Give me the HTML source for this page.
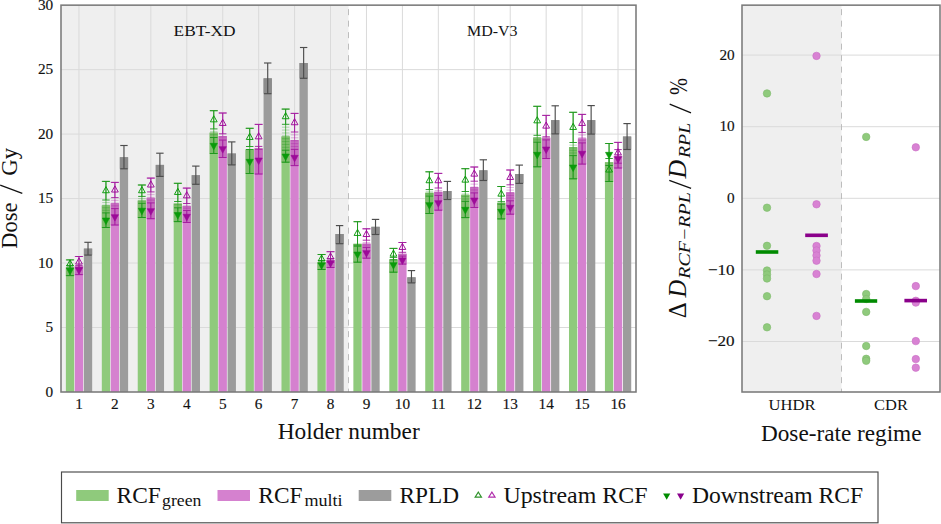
<!DOCTYPE html>
<html><head><meta charset="utf-8"><style>
html,body{margin:0;padding:0;background:#fff;}
body{width:941px;height:524px;overflow:hidden;position:relative;}
text{font-family:"Liberation Serif",serif;fill:#111;stroke:#111;stroke-width:0;}
.t{font-size:15.3px;stroke-width:0.15px;}
.m{font-size:15px;stroke-width:0;}
.L{font-size:23px;}
</style></head><body>
<svg width="941" height="524" viewBox="0 0 941 524" style="position:absolute;left:0;top:0">
<rect width="941" height="524" fill="#fff"/>
<rect x="61.0" y="5.15" width="287.50" height="386.85" fill="#efefef"/>
<line x1="61.0" x2="636.0" y1="327.52" y2="327.52" stroke="#dadada" stroke-width="1"/>
<line x1="61.0" x2="636.0" y1="263.05" y2="263.05" stroke="#dadada" stroke-width="1"/>
<line x1="61.0" x2="636.0" y1="198.57" y2="198.57" stroke="#dadada" stroke-width="1"/>
<line x1="61.0" x2="636.0" y1="134.10" y2="134.10" stroke="#dadada" stroke-width="1"/>
<line x1="61.0" x2="636.0" y1="69.62" y2="69.62" stroke="#dadada" stroke-width="1"/>
<line x1="78.97" x2="78.97" y1="5.15" y2="392.0" stroke="#dadada" stroke-width="1"/>
<line x1="114.91" x2="114.91" y1="5.15" y2="392.0" stroke="#dadada" stroke-width="1"/>
<line x1="150.84" x2="150.84" y1="5.15" y2="392.0" stroke="#dadada" stroke-width="1"/>
<line x1="186.78" x2="186.78" y1="5.15" y2="392.0" stroke="#dadada" stroke-width="1"/>
<line x1="222.72" x2="222.72" y1="5.15" y2="392.0" stroke="#dadada" stroke-width="1"/>
<line x1="258.66" x2="258.66" y1="5.15" y2="392.0" stroke="#dadada" stroke-width="1"/>
<line x1="294.59" x2="294.59" y1="5.15" y2="392.0" stroke="#dadada" stroke-width="1"/>
<line x1="330.53" x2="330.53" y1="5.15" y2="392.0" stroke="#dadada" stroke-width="1"/>
<line x1="366.47" x2="366.47" y1="5.15" y2="392.0" stroke="#dadada" stroke-width="1"/>
<line x1="402.41" x2="402.41" y1="5.15" y2="392.0" stroke="#dadada" stroke-width="1"/>
<line x1="438.34" x2="438.34" y1="5.15" y2="392.0" stroke="#dadada" stroke-width="1"/>
<line x1="474.28" x2="474.28" y1="5.15" y2="392.0" stroke="#dadada" stroke-width="1"/>
<line x1="510.22" x2="510.22" y1="5.15" y2="392.0" stroke="#dadada" stroke-width="1"/>
<line x1="546.16" x2="546.16" y1="5.15" y2="392.0" stroke="#dadada" stroke-width="1"/>
<line x1="582.09" x2="582.09" y1="5.15" y2="392.0" stroke="#dadada" stroke-width="1"/>
<line x1="618.03" x2="618.03" y1="5.15" y2="392.0" stroke="#dadada" stroke-width="1"/>
<line x1="348.50" x2="348.50" y1="5.15" y2="392.0" stroke="#bdbdbd" stroke-width="1" stroke-dasharray="6 5.5" stroke-dashoffset="-4"/>
<rect x="65.87" y="267.25" width="8.3" height="124.75" fill="#8fca7c"/>
<rect x="65.87" y="267.25" width="8.3" height="8.35" fill="#7fbc6c"/>
<line x1="70.02" x2="70.02" y1="259.90" y2="275.60" stroke="#4fae42" stroke-width="0.9"/><line x1="65.87" x2="74.17" y1="259.90" y2="259.90" stroke="#4fae42" stroke-width="0.9"/><line x1="65.87" x2="74.17" y1="275.60" y2="275.60" stroke="#4fae42" stroke-width="0.9"/>
<line x1="70.02" x2="70.02" y1="259.90" y2="268.10" stroke="#1a961a" stroke-width="0.9"/><line x1="66.28" x2="73.75" y1="259.90" y2="259.90" stroke="#1a961a" stroke-width="0.9"/><line x1="66.28" x2="73.75" y1="268.10" y2="268.10" stroke="#1a961a" stroke-width="0.9"/>
<line x1="70.02" x2="70.02" y1="265.40" y2="275.60" stroke="#1a961a" stroke-width="0.9"/><line x1="66.28" x2="73.75" y1="265.40" y2="265.40" stroke="#1a961a" stroke-width="0.9"/><line x1="66.28" x2="73.75" y1="275.60" y2="275.60" stroke="#1a961a" stroke-width="0.9"/>
<path d="M66.62,266.04 L73.42,266.04 L70.02,259.92 Z" fill="none" stroke="#0a9a0a" stroke-width="0.95" stroke-linejoin="miter"/>
<path d="M66.42,268.34 L73.62,268.34 L70.02,274.82 Z" fill="#0a9a0a" stroke="#0a9a0a" stroke-width="0.6"/>
<rect x="74.82" y="266.00" width="8.3" height="126.00" fill="#d581cf"/>
<rect x="74.82" y="266.00" width="8.3" height="8.60" fill="#c56fbf"/>
<line x1="78.97" x2="78.97" y1="256.50" y2="274.60" stroke="#c250be" stroke-width="0.9"/><line x1="74.82" x2="83.12" y1="256.50" y2="256.50" stroke="#c250be" stroke-width="0.9"/><line x1="74.82" x2="83.12" y1="274.60" y2="274.60" stroke="#c250be" stroke-width="0.9"/>
<line x1="78.97" x2="78.97" y1="256.50" y2="267.50" stroke="#a0189c" stroke-width="0.9"/><line x1="75.23" x2="82.70" y1="256.50" y2="256.50" stroke="#a0189c" stroke-width="0.9"/><line x1="75.23" x2="82.70" y1="267.50" y2="267.50" stroke="#a0189c" stroke-width="0.9"/>
<line x1="78.97" x2="78.97" y1="265.40" y2="274.60" stroke="#a0189c" stroke-width="0.9"/><line x1="75.23" x2="82.70" y1="265.40" y2="265.40" stroke="#a0189c" stroke-width="0.9"/><line x1="75.23" x2="82.70" y1="274.60" y2="274.60" stroke="#a0189c" stroke-width="0.9"/>
<path d="M75.57,264.04 L82.37,264.04 L78.97,257.92 Z" fill="none" stroke="#9c0a98" stroke-width="0.95" stroke-linejoin="miter"/>
<path d="M75.37,267.84 L82.57,267.84 L78.97,274.32 Z" fill="#9c0a98" stroke="#9c0a98" stroke-width="0.6"/>
<rect x="83.87" y="248.60" width="8.3" height="143.40" fill="#9c9c9c"/>
<rect x="83.87" y="248.60" width="8.3" height="6.50" fill="#8b8b8b"/>
<line x1="88.02" x2="88.02" y1="242.30" y2="255.10" stroke="#4d4d4d" stroke-width="1.15"/><line x1="84.32" x2="91.72" y1="242.30" y2="242.30" stroke="#4d4d4d" stroke-width="1.15"/><line x1="84.32" x2="91.72" y1="255.10" y2="255.10" stroke="#4d4d4d" stroke-width="1.15"/>
<rect x="101.81" y="205.45" width="8.3" height="186.55" fill="#8fca7c"/>
<rect x="101.81" y="205.45" width="8.3" height="22.05" fill="#7fbc6c"/>
<line x1="105.96" x2="105.96" y1="181.40" y2="227.50" stroke="#4fae42" stroke-width="0.9"/><line x1="101.81" x2="110.11" y1="181.40" y2="181.40" stroke="#4fae42" stroke-width="0.9"/><line x1="101.81" x2="110.11" y1="227.50" y2="227.50" stroke="#4fae42" stroke-width="0.9"/>
<line x1="105.96" x2="105.96" y1="181.40" y2="200.00" stroke="#1a961a" stroke-width="0.9"/><line x1="102.22" x2="109.69" y1="181.40" y2="181.40" stroke="#1a961a" stroke-width="0.9"/><line x1="102.22" x2="109.69" y1="200.00" y2="200.00" stroke="#1a961a" stroke-width="0.9"/>
<line x1="105.96" x2="105.96" y1="212.90" y2="227.50" stroke="#1a961a" stroke-width="0.9"/><line x1="102.22" x2="109.69" y1="212.90" y2="212.90" stroke="#1a961a" stroke-width="0.9"/><line x1="102.22" x2="109.69" y1="227.50" y2="227.50" stroke="#1a961a" stroke-width="0.9"/>
<line x1="102.22" x2="109.69" y1="202.58" y2="202.58" stroke="#1a961a" stroke-width="0.9" stroke-opacity="0.35"/>
<line x1="102.22" x2="109.69" y1="205.16" y2="205.16" stroke="#1a961a" stroke-width="0.9" stroke-opacity="0.35"/>
<line x1="102.22" x2="109.69" y1="207.74" y2="207.74" stroke="#1a961a" stroke-width="0.9" stroke-opacity="0.35"/>
<line x1="102.22" x2="109.69" y1="210.32" y2="210.32" stroke="#1a961a" stroke-width="0.9" stroke-opacity="0.35"/>
<path d="M102.56,192.74 L109.36,192.74 L105.96,186.62 Z" fill="none" stroke="#0a9a0a" stroke-width="0.95" stroke-linejoin="miter"/>
<path d="M102.36,218.04 L109.56,218.04 L105.96,224.52 Z" fill="#0a9a0a" stroke="#0a9a0a" stroke-width="0.6"/>
<rect x="110.76" y="203.40" width="8.3" height="188.60" fill="#d581cf"/>
<rect x="110.76" y="203.40" width="8.3" height="21.60" fill="#c56fbf"/>
<line x1="114.91" x2="114.91" y1="182.40" y2="225.00" stroke="#c250be" stroke-width="0.9"/><line x1="110.76" x2="119.06" y1="182.40" y2="182.40" stroke="#c250be" stroke-width="0.9"/><line x1="110.76" x2="119.06" y1="225.00" y2="225.00" stroke="#c250be" stroke-width="0.9"/>
<line x1="114.91" x2="114.91" y1="182.40" y2="197.60" stroke="#a0189c" stroke-width="0.9"/><line x1="111.17" x2="118.64" y1="182.40" y2="182.40" stroke="#a0189c" stroke-width="0.9"/><line x1="111.17" x2="118.64" y1="197.60" y2="197.60" stroke="#a0189c" stroke-width="0.9"/>
<line x1="114.91" x2="114.91" y1="208.60" y2="225.00" stroke="#a0189c" stroke-width="0.9"/><line x1="111.17" x2="118.64" y1="208.60" y2="208.60" stroke="#a0189c" stroke-width="0.9"/><line x1="111.17" x2="118.64" y1="225.00" y2="225.00" stroke="#a0189c" stroke-width="0.9"/>
<line x1="111.17" x2="118.64" y1="200.35" y2="200.35" stroke="#a0189c" stroke-width="0.9" stroke-opacity="0.35"/>
<line x1="111.17" x2="118.64" y1="203.10" y2="203.10" stroke="#a0189c" stroke-width="0.9" stroke-opacity="0.35"/>
<line x1="111.17" x2="118.64" y1="205.85" y2="205.85" stroke="#a0189c" stroke-width="0.9" stroke-opacity="0.35"/>
<path d="M111.51,192.04 L118.31,192.04 L114.91,185.92 Z" fill="none" stroke="#9c0a98" stroke-width="0.95" stroke-linejoin="miter"/>
<path d="M111.31,214.64 L118.51,214.64 L114.91,221.12 Z" fill="#9c0a98" stroke="#9c0a98" stroke-width="0.6"/>
<rect x="119.81" y="157.20" width="8.3" height="234.80" fill="#9c9c9c"/>
<rect x="119.81" y="157.20" width="8.3" height="11.60" fill="#8b8b8b"/>
<line x1="123.96" x2="123.96" y1="145.50" y2="168.80" stroke="#4d4d4d" stroke-width="1.15"/><line x1="120.26" x2="127.66" y1="145.50" y2="145.50" stroke="#4d4d4d" stroke-width="1.15"/><line x1="120.26" x2="127.66" y1="168.80" y2="168.80" stroke="#4d4d4d" stroke-width="1.15"/>
<rect x="137.74" y="200.55" width="8.3" height="191.45" fill="#8fca7c"/>
<rect x="137.74" y="200.55" width="8.3" height="16.95" fill="#7fbc6c"/>
<line x1="141.89" x2="141.89" y1="185.00" y2="217.50" stroke="#4fae42" stroke-width="0.9"/><line x1="137.74" x2="146.04" y1="185.00" y2="185.00" stroke="#4fae42" stroke-width="0.9"/><line x1="137.74" x2="146.04" y1="217.50" y2="217.50" stroke="#4fae42" stroke-width="0.9"/>
<line x1="141.89" x2="141.89" y1="185.00" y2="196.40" stroke="#1a961a" stroke-width="0.9"/><line x1="138.16" x2="145.63" y1="185.00" y2="185.00" stroke="#1a961a" stroke-width="0.9"/><line x1="138.16" x2="145.63" y1="196.40" y2="196.40" stroke="#1a961a" stroke-width="0.9"/>
<line x1="141.89" x2="141.89" y1="203.30" y2="217.50" stroke="#1a961a" stroke-width="0.9"/><line x1="138.16" x2="145.63" y1="203.30" y2="203.30" stroke="#1a961a" stroke-width="0.9"/><line x1="138.16" x2="145.63" y1="217.50" y2="217.50" stroke="#1a961a" stroke-width="0.9"/>
<line x1="138.16" x2="145.63" y1="198.70" y2="198.70" stroke="#1a961a" stroke-width="0.9" stroke-opacity="0.35"/>
<line x1="138.16" x2="145.63" y1="201.00" y2="201.00" stroke="#1a961a" stroke-width="0.9" stroke-opacity="0.35"/>
<path d="M138.49,192.74 L145.29,192.74 L141.89,186.62 Z" fill="none" stroke="#0a9a0a" stroke-width="0.95" stroke-linejoin="miter"/>
<path d="M138.29,208.24 L145.49,208.24 L141.89,214.72 Z" fill="#0a9a0a" stroke="#0a9a0a" stroke-width="0.6"/>
<rect x="146.69" y="197.90" width="8.3" height="194.10" fill="#d581cf"/>
<rect x="146.69" y="197.90" width="8.3" height="20.80" fill="#c56fbf"/>
<line x1="150.84" x2="150.84" y1="178.10" y2="218.70" stroke="#c250be" stroke-width="0.9"/><line x1="146.69" x2="154.99" y1="178.10" y2="178.10" stroke="#c250be" stroke-width="0.9"/><line x1="146.69" x2="154.99" y1="218.70" y2="218.70" stroke="#c250be" stroke-width="0.9"/>
<line x1="150.84" x2="150.84" y1="178.10" y2="191.90" stroke="#a0189c" stroke-width="0.9"/><line x1="147.11" x2="154.58" y1="178.10" y2="178.10" stroke="#a0189c" stroke-width="0.9"/><line x1="147.11" x2="154.58" y1="191.90" y2="191.90" stroke="#a0189c" stroke-width="0.9"/>
<line x1="150.84" x2="150.84" y1="202.90" y2="218.70" stroke="#a0189c" stroke-width="0.9"/><line x1="147.11" x2="154.58" y1="202.90" y2="202.90" stroke="#a0189c" stroke-width="0.9"/><line x1="147.11" x2="154.58" y1="218.70" y2="218.70" stroke="#a0189c" stroke-width="0.9"/>
<line x1="147.11" x2="154.58" y1="194.65" y2="194.65" stroke="#a0189c" stroke-width="0.9" stroke-opacity="0.35"/>
<line x1="147.11" x2="154.58" y1="197.40" y2="197.40" stroke="#a0189c" stroke-width="0.9" stroke-opacity="0.35"/>
<line x1="147.11" x2="154.58" y1="200.15" y2="200.15" stroke="#a0189c" stroke-width="0.9" stroke-opacity="0.35"/>
<path d="M147.44,187.04 L154.24,187.04 L150.84,180.92 Z" fill="none" stroke="#9c0a98" stroke-width="0.95" stroke-linejoin="miter"/>
<path d="M147.24,208.64 L154.44,208.64 L150.84,215.12 Z" fill="#9c0a98" stroke="#9c0a98" stroke-width="0.6"/>
<rect x="155.74" y="164.90" width="8.3" height="227.10" fill="#9c9c9c"/>
<rect x="155.74" y="164.90" width="8.3" height="11.50" fill="#8b8b8b"/>
<line x1="159.89" x2="159.89" y1="153.20" y2="176.40" stroke="#4d4d4d" stroke-width="1.15"/><line x1="156.19" x2="163.59" y1="153.20" y2="153.20" stroke="#4d4d4d" stroke-width="1.15"/><line x1="156.19" x2="163.59" y1="176.40" y2="176.40" stroke="#4d4d4d" stroke-width="1.15"/>
<rect x="173.68" y="203.55" width="8.3" height="188.45" fill="#8fca7c"/>
<rect x="173.68" y="203.55" width="8.3" height="18.05" fill="#7fbc6c"/>
<line x1="177.83" x2="177.83" y1="183.30" y2="221.60" stroke="#4fae42" stroke-width="0.9"/><line x1="173.68" x2="181.98" y1="183.30" y2="183.30" stroke="#4fae42" stroke-width="0.9"/><line x1="173.68" x2="181.98" y1="221.60" y2="221.60" stroke="#4fae42" stroke-width="0.9"/>
<line x1="177.83" x2="177.83" y1="183.30" y2="201.50" stroke="#1a961a" stroke-width="0.9"/><line x1="174.10" x2="181.57" y1="183.30" y2="183.30" stroke="#1a961a" stroke-width="0.9"/><line x1="174.10" x2="181.57" y1="201.50" y2="201.50" stroke="#1a961a" stroke-width="0.9"/>
<line x1="177.83" x2="177.83" y1="207.80" y2="221.60" stroke="#1a961a" stroke-width="0.9"/><line x1="174.10" x2="181.57" y1="207.80" y2="207.80" stroke="#1a961a" stroke-width="0.9"/><line x1="174.10" x2="181.57" y1="221.60" y2="221.60" stroke="#1a961a" stroke-width="0.9"/>
<line x1="174.10" x2="181.57" y1="204.65" y2="204.65" stroke="#1a961a" stroke-width="0.9" stroke-opacity="0.35"/>
<path d="M174.43,194.44 L181.23,194.44 L177.83,188.32 Z" fill="none" stroke="#0a9a0a" stroke-width="0.95" stroke-linejoin="miter"/>
<path d="M174.23,212.54 L181.43,212.54 L177.83,219.02 Z" fill="#0a9a0a" stroke="#0a9a0a" stroke-width="0.6"/>
<rect x="182.63" y="206.15" width="8.3" height="185.85" fill="#d581cf"/>
<rect x="182.63" y="206.15" width="8.3" height="16.35" fill="#c56fbf"/>
<line x1="186.78" x2="186.78" y1="188.10" y2="222.50" stroke="#c250be" stroke-width="0.9"/><line x1="182.63" x2="190.93" y1="188.10" y2="188.10" stroke="#c250be" stroke-width="0.9"/><line x1="182.63" x2="190.93" y1="222.50" y2="222.50" stroke="#c250be" stroke-width="0.9"/>
<line x1="186.78" x2="186.78" y1="188.10" y2="203.50" stroke="#a0189c" stroke-width="0.9"/><line x1="183.05" x2="190.52" y1="188.10" y2="188.10" stroke="#a0189c" stroke-width="0.9"/><line x1="183.05" x2="190.52" y1="203.50" y2="203.50" stroke="#a0189c" stroke-width="0.9"/>
<line x1="186.78" x2="186.78" y1="210.50" y2="222.50" stroke="#a0189c" stroke-width="0.9"/><line x1="183.05" x2="190.52" y1="210.50" y2="210.50" stroke="#a0189c" stroke-width="0.9"/><line x1="183.05" x2="190.52" y1="222.50" y2="222.50" stroke="#a0189c" stroke-width="0.9"/>
<line x1="183.05" x2="190.52" y1="205.83" y2="205.83" stroke="#a0189c" stroke-width="0.9" stroke-opacity="0.35"/>
<line x1="183.05" x2="190.52" y1="208.17" y2="208.17" stroke="#a0189c" stroke-width="0.9" stroke-opacity="0.35"/>
<path d="M183.38,197.84 L190.18,197.84 L186.78,191.72 Z" fill="none" stroke="#9c0a98" stroke-width="0.95" stroke-linejoin="miter"/>
<path d="M183.18,214.34 L190.38,214.34 L186.78,220.82 Z" fill="#9c0a98" stroke="#9c0a98" stroke-width="0.6"/>
<rect x="191.68" y="175.20" width="8.3" height="216.80" fill="#9c9c9c"/>
<rect x="191.68" y="175.20" width="8.3" height="9.10" fill="#8b8b8b"/>
<line x1="195.83" x2="195.83" y1="166.10" y2="184.30" stroke="#4d4d4d" stroke-width="1.15"/><line x1="192.13" x2="199.53" y1="166.10" y2="166.10" stroke="#4d4d4d" stroke-width="1.15"/><line x1="192.13" x2="199.53" y1="184.30" y2="184.30" stroke="#4d4d4d" stroke-width="1.15"/>
<rect x="209.62" y="132.65" width="8.3" height="259.35" fill="#8fca7c"/>
<rect x="209.62" y="132.65" width="8.3" height="20.85" fill="#7fbc6c"/>
<line x1="213.77" x2="213.77" y1="110.70" y2="153.50" stroke="#4fae42" stroke-width="0.9"/><line x1="209.62" x2="217.92" y1="110.70" y2="110.70" stroke="#4fae42" stroke-width="0.9"/><line x1="209.62" x2="217.92" y1="153.50" y2="153.50" stroke="#4fae42" stroke-width="0.9"/>
<line x1="213.77" x2="213.77" y1="110.70" y2="128.90" stroke="#1a961a" stroke-width="0.9"/><line x1="210.03" x2="217.50" y1="110.70" y2="110.70" stroke="#1a961a" stroke-width="0.9"/><line x1="210.03" x2="217.50" y1="128.90" y2="128.90" stroke="#1a961a" stroke-width="0.9"/>
<line x1="213.77" x2="213.77" y1="137.50" y2="153.50" stroke="#1a961a" stroke-width="0.9"/><line x1="210.03" x2="217.50" y1="137.50" y2="137.50" stroke="#1a961a" stroke-width="0.9"/><line x1="210.03" x2="217.50" y1="153.50" y2="153.50" stroke="#1a961a" stroke-width="0.9"/>
<line x1="210.03" x2="217.50" y1="131.77" y2="131.77" stroke="#1a961a" stroke-width="0.9" stroke-opacity="0.35"/>
<line x1="210.03" x2="217.50" y1="134.63" y2="134.63" stroke="#1a961a" stroke-width="0.9" stroke-opacity="0.35"/>
<path d="M210.37,121.84 L217.17,121.84 L213.77,115.72 Z" fill="none" stroke="#0a9a0a" stroke-width="0.95" stroke-linejoin="miter"/>
<path d="M210.17,143.34 L217.37,143.34 L213.77,149.82 Z" fill="#0a9a0a" stroke="#0a9a0a" stroke-width="0.6"/>
<rect x="218.57" y="136.10" width="8.3" height="255.90" fill="#d581cf"/>
<rect x="218.57" y="136.10" width="8.3" height="21.40" fill="#c56fbf"/>
<line x1="222.72" x2="222.72" y1="113.00" y2="157.50" stroke="#c250be" stroke-width="0.9"/><line x1="218.57" x2="226.87" y1="113.00" y2="113.00" stroke="#c250be" stroke-width="0.9"/><line x1="218.57" x2="226.87" y1="157.50" y2="157.50" stroke="#c250be" stroke-width="0.9"/>
<line x1="222.72" x2="222.72" y1="113.00" y2="133.80" stroke="#a0189c" stroke-width="0.9"/><line x1="218.98" x2="226.45" y1="113.00" y2="113.00" stroke="#a0189c" stroke-width="0.9"/><line x1="218.98" x2="226.45" y1="133.80" y2="133.80" stroke="#a0189c" stroke-width="0.9"/>
<line x1="222.72" x2="222.72" y1="140.10" y2="157.50" stroke="#a0189c" stroke-width="0.9"/><line x1="218.98" x2="226.45" y1="140.10" y2="140.10" stroke="#a0189c" stroke-width="0.9"/><line x1="218.98" x2="226.45" y1="157.50" y2="157.50" stroke="#a0189c" stroke-width="0.9"/>
<line x1="218.98" x2="226.45" y1="136.95" y2="136.95" stroke="#a0189c" stroke-width="0.9" stroke-opacity="0.35"/>
<path d="M219.32,125.44 L226.12,125.44 L222.72,119.32 Z" fill="none" stroke="#9c0a98" stroke-width="0.95" stroke-linejoin="miter"/>
<path d="M219.12,146.64 L226.32,146.64 L222.72,153.12 Z" fill="#9c0a98" stroke="#9c0a98" stroke-width="0.6"/>
<rect x="227.62" y="153.50" width="8.3" height="238.50" fill="#9c9c9c"/>
<rect x="227.62" y="153.50" width="8.3" height="11.40" fill="#8b8b8b"/>
<line x1="231.77" x2="231.77" y1="141.90" y2="164.90" stroke="#4d4d4d" stroke-width="1.15"/><line x1="228.07" x2="235.47" y1="141.90" y2="141.90" stroke="#4d4d4d" stroke-width="1.15"/><line x1="228.07" x2="235.47" y1="164.90" y2="164.90" stroke="#4d4d4d" stroke-width="1.15"/>
<rect x="245.56" y="149.45" width="8.3" height="242.55" fill="#8fca7c"/>
<rect x="245.56" y="149.45" width="8.3" height="24.05" fill="#7fbc6c"/>
<line x1="249.71" x2="249.71" y1="128.30" y2="173.50" stroke="#4fae42" stroke-width="0.9"/><line x1="245.56" x2="253.86" y1="128.30" y2="128.30" stroke="#4fae42" stroke-width="0.9"/><line x1="245.56" x2="253.86" y1="173.50" y2="173.50" stroke="#4fae42" stroke-width="0.9"/>
<line x1="249.71" x2="249.71" y1="128.30" y2="146.50" stroke="#1a961a" stroke-width="0.9"/><line x1="245.97" x2="253.44" y1="128.30" y2="128.30" stroke="#1a961a" stroke-width="0.9"/><line x1="245.97" x2="253.44" y1="146.50" y2="146.50" stroke="#1a961a" stroke-width="0.9"/>
<line x1="249.71" x2="249.71" y1="149.50" y2="173.50" stroke="#1a961a" stroke-width="0.9"/><line x1="245.97" x2="253.44" y1="149.50" y2="149.50" stroke="#1a961a" stroke-width="0.9"/><line x1="245.97" x2="253.44" y1="173.50" y2="173.50" stroke="#1a961a" stroke-width="0.9"/>
<path d="M246.31,139.44 L253.11,139.44 L249.71,133.32 Z" fill="none" stroke="#0a9a0a" stroke-width="0.95" stroke-linejoin="miter"/>
<path d="M246.11,159.34 L253.31,159.34 L249.71,165.82 Z" fill="#0a9a0a" stroke="#0a9a0a" stroke-width="0.6"/>
<rect x="254.51" y="148.50" width="8.3" height="243.50" fill="#d581cf"/>
<rect x="254.51" y="148.50" width="8.3" height="25.50" fill="#c56fbf"/>
<line x1="258.66" x2="258.66" y1="124.40" y2="174.00" stroke="#c250be" stroke-width="0.9"/><line x1="254.51" x2="262.81" y1="124.40" y2="124.40" stroke="#c250be" stroke-width="0.9"/><line x1="254.51" x2="262.81" y1="174.00" y2="174.00" stroke="#c250be" stroke-width="0.9"/>
<line x1="258.66" x2="258.66" y1="124.40" y2="149.20" stroke="#a0189c" stroke-width="0.9"/><line x1="254.92" x2="262.39" y1="124.40" y2="124.40" stroke="#a0189c" stroke-width="0.9"/><line x1="254.92" x2="262.39" y1="149.20" y2="149.20" stroke="#a0189c" stroke-width="0.9"/>
<line x1="258.66" x2="258.66" y1="146.40" y2="174.00" stroke="#a0189c" stroke-width="0.9"/><line x1="254.92" x2="262.39" y1="146.40" y2="146.40" stroke="#a0189c" stroke-width="0.9"/><line x1="254.92" x2="262.39" y1="174.00" y2="174.00" stroke="#a0189c" stroke-width="0.9"/>
<path d="M255.26,138.84 L262.06,138.84 L258.66,132.72 Z" fill="none" stroke="#9c0a98" stroke-width="0.95" stroke-linejoin="miter"/>
<path d="M255.06,158.04 L262.26,158.04 L258.66,164.52 Z" fill="#9c0a98" stroke="#9c0a98" stroke-width="0.6"/>
<rect x="263.56" y="78.30" width="8.3" height="313.70" fill="#9c9c9c"/>
<rect x="263.56" y="78.30" width="8.3" height="15.40" fill="#8b8b8b"/>
<line x1="267.71" x2="267.71" y1="63.00" y2="93.70" stroke="#4d4d4d" stroke-width="1.15"/><line x1="264.01" x2="271.41" y1="63.00" y2="63.00" stroke="#4d4d4d" stroke-width="1.15"/><line x1="264.01" x2="271.41" y1="93.70" y2="93.70" stroke="#4d4d4d" stroke-width="1.15"/>
<rect x="281.49" y="136.45" width="8.3" height="255.55" fill="#8fca7c"/>
<rect x="281.49" y="136.45" width="8.3" height="25.75" fill="#7fbc6c"/>
<line x1="285.64" x2="285.64" y1="109.10" y2="162.20" stroke="#4fae42" stroke-width="0.9"/><line x1="281.49" x2="289.79" y1="109.10" y2="109.10" stroke="#4fae42" stroke-width="0.9"/><line x1="281.49" x2="289.79" y1="162.20" y2="162.20" stroke="#4fae42" stroke-width="0.9"/>
<line x1="285.64" x2="285.64" y1="109.10" y2="124.30" stroke="#1a961a" stroke-width="0.9"/><line x1="281.91" x2="289.38" y1="109.10" y2="109.10" stroke="#1a961a" stroke-width="0.9"/><line x1="281.91" x2="289.38" y1="124.30" y2="124.30" stroke="#1a961a" stroke-width="0.9"/>
<line x1="285.64" x2="285.64" y1="150.20" y2="162.20" stroke="#1a961a" stroke-width="0.9"/><line x1="281.91" x2="289.38" y1="150.20" y2="150.20" stroke="#1a961a" stroke-width="0.9"/><line x1="281.91" x2="289.38" y1="162.20" y2="162.20" stroke="#1a961a" stroke-width="0.9"/>
<line x1="281.91" x2="289.38" y1="127.18" y2="127.18" stroke="#1a961a" stroke-width="0.9" stroke-opacity="0.35"/>
<line x1="281.91" x2="289.38" y1="130.06" y2="130.06" stroke="#1a961a" stroke-width="0.9" stroke-opacity="0.35"/>
<line x1="281.91" x2="289.38" y1="132.93" y2="132.93" stroke="#1a961a" stroke-width="0.9" stroke-opacity="0.35"/>
<line x1="281.91" x2="289.38" y1="135.81" y2="135.81" stroke="#1a961a" stroke-width="0.9" stroke-opacity="0.35"/>
<line x1="281.91" x2="289.38" y1="138.69" y2="138.69" stroke="#1a961a" stroke-width="0.9" stroke-opacity="0.35"/>
<line x1="281.91" x2="289.38" y1="141.57" y2="141.57" stroke="#1a961a" stroke-width="0.9" stroke-opacity="0.35"/>
<line x1="281.91" x2="289.38" y1="144.44" y2="144.44" stroke="#1a961a" stroke-width="0.9" stroke-opacity="0.35"/>
<line x1="281.91" x2="289.38" y1="147.32" y2="147.32" stroke="#1a961a" stroke-width="0.9" stroke-opacity="0.35"/>
<path d="M282.24,118.74 L289.04,118.74 L285.64,112.62 Z" fill="none" stroke="#0a9a0a" stroke-width="0.95" stroke-linejoin="miter"/>
<path d="M282.04,154.04 L289.24,154.04 L285.64,160.52 Z" fill="#0a9a0a" stroke="#0a9a0a" stroke-width="0.6"/>
<rect x="290.44" y="140.10" width="8.3" height="251.90" fill="#d581cf"/>
<rect x="290.44" y="140.10" width="8.3" height="25.50" fill="#c56fbf"/>
<line x1="294.59" x2="294.59" y1="113.40" y2="165.60" stroke="#c250be" stroke-width="0.9"/><line x1="290.44" x2="298.74" y1="113.40" y2="113.40" stroke="#c250be" stroke-width="0.9"/><line x1="290.44" x2="298.74" y1="165.60" y2="165.60" stroke="#c250be" stroke-width="0.9"/>
<line x1="294.59" x2="294.59" y1="113.40" y2="132.00" stroke="#a0189c" stroke-width="0.9"/><line x1="290.86" x2="298.33" y1="113.40" y2="113.40" stroke="#a0189c" stroke-width="0.9"/><line x1="290.86" x2="298.33" y1="132.00" y2="132.00" stroke="#a0189c" stroke-width="0.9"/>
<line x1="294.59" x2="294.59" y1="149.40" y2="165.60" stroke="#a0189c" stroke-width="0.9"/><line x1="290.86" x2="298.33" y1="149.40" y2="149.40" stroke="#a0189c" stroke-width="0.9"/><line x1="290.86" x2="298.33" y1="165.60" y2="165.60" stroke="#a0189c" stroke-width="0.9"/>
<line x1="290.86" x2="298.33" y1="134.90" y2="134.90" stroke="#a0189c" stroke-width="0.9" stroke-opacity="0.35"/>
<line x1="290.86" x2="298.33" y1="137.80" y2="137.80" stroke="#a0189c" stroke-width="0.9" stroke-opacity="0.35"/>
<line x1="290.86" x2="298.33" y1="140.70" y2="140.70" stroke="#a0189c" stroke-width="0.9" stroke-opacity="0.35"/>
<line x1="290.86" x2="298.33" y1="143.60" y2="143.60" stroke="#a0189c" stroke-width="0.9" stroke-opacity="0.35"/>
<line x1="290.86" x2="298.33" y1="146.50" y2="146.50" stroke="#a0189c" stroke-width="0.9" stroke-opacity="0.35"/>
<path d="M291.19,124.74 L297.99,124.74 L294.59,118.62 Z" fill="none" stroke="#9c0a98" stroke-width="0.95" stroke-linejoin="miter"/>
<path d="M290.99,155.34 L298.19,155.34 L294.59,161.82 Z" fill="#9c0a98" stroke="#9c0a98" stroke-width="0.6"/>
<rect x="299.49" y="63.00" width="8.3" height="329.00" fill="#9c9c9c"/>
<rect x="299.49" y="63.00" width="8.3" height="15.30" fill="#8b8b8b"/>
<line x1="303.64" x2="303.64" y1="47.50" y2="78.30" stroke="#4d4d4d" stroke-width="1.15"/><line x1="299.94" x2="307.34" y1="47.50" y2="47.50" stroke="#4d4d4d" stroke-width="1.15"/><line x1="299.94" x2="307.34" y1="78.30" y2="78.30" stroke="#4d4d4d" stroke-width="1.15"/>
<rect x="317.43" y="262.00" width="8.3" height="130.00" fill="#8fca7c"/>
<rect x="317.43" y="262.00" width="8.3" height="7.50" fill="#7fbc6c"/>
<line x1="321.58" x2="321.58" y1="254.50" y2="269.50" stroke="#4fae42" stroke-width="0.9"/><line x1="317.43" x2="325.73" y1="254.50" y2="254.50" stroke="#4fae42" stroke-width="0.9"/><line x1="317.43" x2="325.73" y1="269.50" y2="269.50" stroke="#4fae42" stroke-width="0.9"/>
<line x1="321.58" x2="321.58" y1="254.50" y2="263.50" stroke="#1a961a" stroke-width="0.9"/><line x1="317.85" x2="325.32" y1="254.50" y2="254.50" stroke="#1a961a" stroke-width="0.9"/><line x1="317.85" x2="325.32" y1="263.50" y2="263.50" stroke="#1a961a" stroke-width="0.9"/>
<line x1="321.58" x2="321.58" y1="260.50" y2="269.50" stroke="#1a961a" stroke-width="0.9"/><line x1="317.85" x2="325.32" y1="260.50" y2="260.50" stroke="#1a961a" stroke-width="0.9"/><line x1="317.85" x2="325.32" y1="269.50" y2="269.50" stroke="#1a961a" stroke-width="0.9"/>
<path d="M318.18,261.04 L324.98,261.04 L321.58,254.92 Z" fill="none" stroke="#0a9a0a" stroke-width="0.95" stroke-linejoin="miter"/>
<path d="M317.98,262.84 L325.18,262.84 L321.58,269.32 Z" fill="#0a9a0a" stroke="#0a9a0a" stroke-width="0.6"/>
<rect x="326.38" y="260.00" width="8.3" height="132.00" fill="#d581cf"/>
<rect x="326.38" y="260.00" width="8.3" height="7.50" fill="#c56fbf"/>
<line x1="330.53" x2="330.53" y1="251.70" y2="267.50" stroke="#c250be" stroke-width="0.9"/><line x1="326.38" x2="334.68" y1="251.70" y2="251.70" stroke="#c250be" stroke-width="0.9"/><line x1="326.38" x2="334.68" y1="267.50" y2="267.50" stroke="#c250be" stroke-width="0.9"/>
<line x1="330.53" x2="330.53" y1="251.70" y2="262.30" stroke="#a0189c" stroke-width="0.9"/><line x1="326.80" x2="334.27" y1="251.70" y2="251.70" stroke="#a0189c" stroke-width="0.9"/><line x1="326.80" x2="334.27" y1="262.30" y2="262.30" stroke="#a0189c" stroke-width="0.9"/>
<line x1="330.53" x2="330.53" y1="258.50" y2="267.50" stroke="#a0189c" stroke-width="0.9"/><line x1="326.80" x2="334.27" y1="258.50" y2="258.50" stroke="#a0189c" stroke-width="0.9"/><line x1="326.80" x2="334.27" y1="267.50" y2="267.50" stroke="#a0189c" stroke-width="0.9"/>
<path d="M327.13,259.04 L333.93,259.04 L330.53,252.92 Z" fill="none" stroke="#9c0a98" stroke-width="0.95" stroke-linejoin="miter"/>
<path d="M326.93,260.84 L334.13,260.84 L330.53,267.32 Z" fill="#9c0a98" stroke="#9c0a98" stroke-width="0.6"/>
<rect x="335.43" y="234.00" width="8.3" height="158.00" fill="#9c9c9c"/>
<rect x="335.43" y="234.00" width="8.3" height="9.70" fill="#8b8b8b"/>
<line x1="339.58" x2="339.58" y1="225.60" y2="243.70" stroke="#4d4d4d" stroke-width="1.15"/><line x1="335.88" x2="343.28" y1="225.60" y2="225.60" stroke="#4d4d4d" stroke-width="1.15"/><line x1="335.88" x2="343.28" y1="243.70" y2="243.70" stroke="#4d4d4d" stroke-width="1.15"/>
<rect x="353.37" y="243.80" width="8.3" height="148.20" fill="#8fca7c"/>
<rect x="353.37" y="243.80" width="8.3" height="18.40" fill="#7fbc6c"/>
<line x1="357.52" x2="357.52" y1="221.70" y2="262.20" stroke="#4fae42" stroke-width="0.9"/><line x1="353.37" x2="361.67" y1="221.70" y2="221.70" stroke="#4fae42" stroke-width="0.9"/><line x1="353.37" x2="361.67" y1="262.20" y2="262.20" stroke="#4fae42" stroke-width="0.9"/>
<line x1="357.52" x2="357.52" y1="221.70" y2="245.10" stroke="#1a961a" stroke-width="0.9"/><line x1="353.78" x2="361.25" y1="221.70" y2="221.70" stroke="#1a961a" stroke-width="0.9"/><line x1="353.78" x2="361.25" y1="245.10" y2="245.10" stroke="#1a961a" stroke-width="0.9"/>
<line x1="357.52" x2="357.52" y1="246.20" y2="262.20" stroke="#1a961a" stroke-width="0.9"/><line x1="353.78" x2="361.25" y1="246.20" y2="246.20" stroke="#1a961a" stroke-width="0.9"/><line x1="353.78" x2="361.25" y1="262.20" y2="262.20" stroke="#1a961a" stroke-width="0.9"/>
<path d="M354.12,235.44 L360.92,235.44 L357.52,229.32 Z" fill="none" stroke="#0a9a0a" stroke-width="0.95" stroke-linejoin="miter"/>
<path d="M353.92,252.04 L361.12,252.04 L357.52,258.52 Z" fill="#0a9a0a" stroke="#0a9a0a" stroke-width="0.6"/>
<rect x="362.32" y="243.65" width="8.3" height="148.35" fill="#d581cf"/>
<rect x="362.32" y="243.65" width="8.3" height="14.55" fill="#c56fbf"/>
<line x1="366.47" x2="366.47" y1="228.80" y2="258.20" stroke="#c250be" stroke-width="0.9"/><line x1="362.32" x2="370.62" y1="228.80" y2="228.80" stroke="#c250be" stroke-width="0.9"/><line x1="362.32" x2="370.62" y1="258.20" y2="258.20" stroke="#c250be" stroke-width="0.9"/>
<line x1="366.47" x2="366.47" y1="228.80" y2="240.20" stroke="#a0189c" stroke-width="0.9"/><line x1="362.73" x2="370.20" y1="228.80" y2="228.80" stroke="#a0189c" stroke-width="0.9"/><line x1="362.73" x2="370.20" y1="240.20" y2="240.20" stroke="#a0189c" stroke-width="0.9"/>
<line x1="366.47" x2="366.47" y1="247.40" y2="258.20" stroke="#a0189c" stroke-width="0.9"/><line x1="362.73" x2="370.20" y1="247.40" y2="247.40" stroke="#a0189c" stroke-width="0.9"/><line x1="362.73" x2="370.20" y1="258.20" y2="258.20" stroke="#a0189c" stroke-width="0.9"/>
<line x1="362.73" x2="370.20" y1="242.60" y2="242.60" stroke="#a0189c" stroke-width="0.9" stroke-opacity="0.35"/>
<line x1="362.73" x2="370.20" y1="245.00" y2="245.00" stroke="#a0189c" stroke-width="0.9" stroke-opacity="0.35"/>
<path d="M363.07,236.54 L369.87,236.54 L366.47,230.42 Z" fill="none" stroke="#9c0a98" stroke-width="0.95" stroke-linejoin="miter"/>
<path d="M362.87,250.64 L370.07,250.64 L366.47,257.12 Z" fill="#9c0a98" stroke="#9c0a98" stroke-width="0.6"/>
<rect x="371.37" y="226.80" width="8.3" height="165.20" fill="#9c9c9c"/>
<rect x="371.37" y="226.80" width="8.3" height="7.70" fill="#8b8b8b"/>
<line x1="375.52" x2="375.52" y1="219.40" y2="234.50" stroke="#4d4d4d" stroke-width="1.15"/><line x1="371.82" x2="379.22" y1="219.40" y2="219.40" stroke="#4d4d4d" stroke-width="1.15"/><line x1="371.82" x2="379.22" y1="234.50" y2="234.50" stroke="#4d4d4d" stroke-width="1.15"/>
<rect x="389.31" y="259.45" width="8.3" height="132.55" fill="#8fca7c"/>
<rect x="389.31" y="259.45" width="8.3" height="12.75" fill="#7fbc6c"/>
<line x1="393.46" x2="393.46" y1="248.40" y2="272.20" stroke="#4fae42" stroke-width="0.9"/><line x1="389.31" x2="397.61" y1="248.40" y2="248.40" stroke="#4fae42" stroke-width="0.9"/><line x1="389.31" x2="397.61" y1="272.20" y2="272.20" stroke="#4fae42" stroke-width="0.9"/>
<line x1="393.46" x2="393.46" y1="248.40" y2="259.80" stroke="#1a961a" stroke-width="0.9"/><line x1="389.72" x2="397.19" y1="248.40" y2="248.40" stroke="#1a961a" stroke-width="0.9"/><line x1="389.72" x2="397.19" y1="259.80" y2="259.80" stroke="#1a961a" stroke-width="0.9"/>
<line x1="393.46" x2="393.46" y1="257.40" y2="272.20" stroke="#1a961a" stroke-width="0.9"/><line x1="389.72" x2="397.19" y1="257.40" y2="257.40" stroke="#1a961a" stroke-width="0.9"/><line x1="389.72" x2="397.19" y1="272.20" y2="272.20" stroke="#1a961a" stroke-width="0.9"/>
<path d="M390.06,256.14 L396.86,256.14 L393.46,250.02 Z" fill="none" stroke="#0a9a0a" stroke-width="0.95" stroke-linejoin="miter"/>
<path d="M389.86,262.64 L397.06,262.64 L393.46,269.12 Z" fill="#0a9a0a" stroke="#0a9a0a" stroke-width="0.6"/>
<rect x="398.26" y="253.75" width="8.3" height="138.25" fill="#d581cf"/>
<rect x="398.26" y="253.75" width="8.3" height="10.35" fill="#c56fbf"/>
<line x1="402.41" x2="402.41" y1="242.50" y2="264.10" stroke="#c250be" stroke-width="0.9"/><line x1="398.26" x2="406.56" y1="242.50" y2="242.50" stroke="#c250be" stroke-width="0.9"/><line x1="398.26" x2="406.56" y1="264.10" y2="264.10" stroke="#c250be" stroke-width="0.9"/>
<line x1="402.41" x2="402.41" y1="242.50" y2="252.30" stroke="#a0189c" stroke-width="0.9"/><line x1="398.67" x2="406.14" y1="242.50" y2="242.50" stroke="#a0189c" stroke-width="0.9"/><line x1="398.67" x2="406.14" y1="252.30" y2="252.30" stroke="#a0189c" stroke-width="0.9"/>
<line x1="402.41" x2="402.41" y1="256.10" y2="264.10" stroke="#a0189c" stroke-width="0.9"/><line x1="398.67" x2="406.14" y1="256.10" y2="256.10" stroke="#a0189c" stroke-width="0.9"/><line x1="398.67" x2="406.14" y1="264.10" y2="264.10" stroke="#a0189c" stroke-width="0.9"/>
<path d="M399.01,249.44 L405.81,249.44 L402.41,243.32 Z" fill="none" stroke="#9c0a98" stroke-width="0.95" stroke-linejoin="miter"/>
<path d="M398.81,257.94 L406.01,257.94 L402.41,264.42 Z" fill="#9c0a98" stroke="#9c0a98" stroke-width="0.6"/>
<rect x="407.31" y="277.30" width="8.3" height="114.70" fill="#9c9c9c"/>
<rect x="407.31" y="277.30" width="8.3" height="5.60" fill="#8b8b8b"/>
<line x1="411.46" x2="411.46" y1="270.60" y2="282.90" stroke="#4d4d4d" stroke-width="1.15"/><line x1="407.76" x2="415.16" y1="270.60" y2="270.60" stroke="#4d4d4d" stroke-width="1.15"/><line x1="407.76" x2="415.16" y1="282.90" y2="282.90" stroke="#4d4d4d" stroke-width="1.15"/>
<rect x="425.24" y="192.75" width="8.3" height="199.25" fill="#8fca7c"/>
<rect x="425.24" y="192.75" width="8.3" height="20.75" fill="#7fbc6c"/>
<line x1="429.39" x2="429.39" y1="171.80" y2="213.50" stroke="#4fae42" stroke-width="0.9"/><line x1="425.24" x2="433.54" y1="171.80" y2="171.80" stroke="#4fae42" stroke-width="0.9"/><line x1="425.24" x2="433.54" y1="213.50" y2="213.50" stroke="#4fae42" stroke-width="0.9"/>
<line x1="429.39" x2="429.39" y1="171.80" y2="189.60" stroke="#1a961a" stroke-width="0.9"/><line x1="425.66" x2="433.13" y1="171.80" y2="171.80" stroke="#1a961a" stroke-width="0.9"/><line x1="425.66" x2="433.13" y1="189.60" y2="189.60" stroke="#1a961a" stroke-width="0.9"/>
<line x1="429.39" x2="429.39" y1="196.10" y2="213.50" stroke="#1a961a" stroke-width="0.9"/><line x1="425.66" x2="433.13" y1="196.10" y2="196.10" stroke="#1a961a" stroke-width="0.9"/><line x1="425.66" x2="433.13" y1="213.50" y2="213.50" stroke="#1a961a" stroke-width="0.9"/>
<line x1="425.66" x2="433.13" y1="191.77" y2="191.77" stroke="#1a961a" stroke-width="0.9" stroke-opacity="0.35"/>
<line x1="425.66" x2="433.13" y1="193.93" y2="193.93" stroke="#1a961a" stroke-width="0.9" stroke-opacity="0.35"/>
<path d="M425.99,182.74 L432.79,182.74 L429.39,176.62 Z" fill="none" stroke="#0a9a0a" stroke-width="0.95" stroke-linejoin="miter"/>
<path d="M425.79,202.64 L432.99,202.64 L429.39,209.12 Z" fill="#0a9a0a" stroke="#0a9a0a" stroke-width="0.6"/>
<rect x="434.19" y="191.75" width="8.3" height="200.25" fill="#d581cf"/>
<rect x="434.19" y="191.75" width="8.3" height="18.45" fill="#c56fbf"/>
<line x1="438.34" x2="438.34" y1="173.40" y2="210.20" stroke="#c250be" stroke-width="0.9"/><line x1="434.19" x2="442.49" y1="173.40" y2="173.40" stroke="#c250be" stroke-width="0.9"/><line x1="434.19" x2="442.49" y1="210.20" y2="210.20" stroke="#c250be" stroke-width="0.9"/>
<line x1="438.34" x2="438.34" y1="173.40" y2="188.00" stroke="#a0189c" stroke-width="0.9"/><line x1="434.61" x2="442.08" y1="173.40" y2="173.40" stroke="#a0189c" stroke-width="0.9"/><line x1="434.61" x2="442.08" y1="188.00" y2="188.00" stroke="#a0189c" stroke-width="0.9"/>
<line x1="438.34" x2="438.34" y1="195.40" y2="210.20" stroke="#a0189c" stroke-width="0.9"/><line x1="434.61" x2="442.08" y1="195.40" y2="195.40" stroke="#a0189c" stroke-width="0.9"/><line x1="434.61" x2="442.08" y1="210.20" y2="210.20" stroke="#a0189c" stroke-width="0.9"/>
<line x1="434.61" x2="442.08" y1="190.47" y2="190.47" stroke="#a0189c" stroke-width="0.9" stroke-opacity="0.35"/>
<line x1="434.61" x2="442.08" y1="192.93" y2="192.93" stroke="#a0189c" stroke-width="0.9" stroke-opacity="0.35"/>
<path d="M434.94,182.74 L441.74,182.74 L438.34,176.62 Z" fill="none" stroke="#9c0a98" stroke-width="0.95" stroke-linejoin="miter"/>
<path d="M434.74,200.64 L441.94,200.64 L438.34,207.12 Z" fill="#9c0a98" stroke="#9c0a98" stroke-width="0.6"/>
<rect x="443.24" y="191.00" width="8.3" height="201.00" fill="#9c9c9c"/>
<rect x="443.24" y="191.00" width="8.3" height="8.50" fill="#8b8b8b"/>
<line x1="447.39" x2="447.39" y1="181.40" y2="199.50" stroke="#4d4d4d" stroke-width="1.15"/><line x1="443.69" x2="451.09" y1="181.40" y2="181.40" stroke="#4d4d4d" stroke-width="1.15"/><line x1="443.69" x2="451.09" y1="199.50" y2="199.50" stroke="#4d4d4d" stroke-width="1.15"/>
<rect x="461.18" y="194.80" width="8.3" height="197.20" fill="#8fca7c"/>
<rect x="461.18" y="194.80" width="8.3" height="22.80" fill="#7fbc6c"/>
<line x1="465.33" x2="465.33" y1="168.70" y2="217.60" stroke="#4fae42" stroke-width="0.9"/><line x1="461.18" x2="469.48" y1="168.70" y2="168.70" stroke="#4fae42" stroke-width="0.9"/><line x1="461.18" x2="469.48" y1="217.60" y2="217.60" stroke="#4fae42" stroke-width="0.9"/>
<line x1="465.33" x2="465.33" y1="168.70" y2="191.50" stroke="#1a961a" stroke-width="0.9"/><line x1="461.60" x2="469.07" y1="168.70" y2="168.70" stroke="#1a961a" stroke-width="0.9"/><line x1="461.60" x2="469.07" y1="191.50" y2="191.50" stroke="#1a961a" stroke-width="0.9"/>
<line x1="465.33" x2="465.33" y1="201.40" y2="217.60" stroke="#1a961a" stroke-width="0.9"/><line x1="461.60" x2="469.07" y1="201.40" y2="201.40" stroke="#1a961a" stroke-width="0.9"/><line x1="461.60" x2="469.07" y1="217.60" y2="217.60" stroke="#1a961a" stroke-width="0.9"/>
<line x1="461.60" x2="469.07" y1="193.97" y2="193.97" stroke="#1a961a" stroke-width="0.9" stroke-opacity="0.35"/>
<line x1="461.60" x2="469.07" y1="196.45" y2="196.45" stroke="#1a961a" stroke-width="0.9" stroke-opacity="0.35"/>
<line x1="461.60" x2="469.07" y1="198.93" y2="198.93" stroke="#1a961a" stroke-width="0.9" stroke-opacity="0.35"/>
<path d="M461.93,182.14 L468.73,182.14 L465.33,176.02 Z" fill="none" stroke="#0a9a0a" stroke-width="0.95" stroke-linejoin="miter"/>
<path d="M461.73,207.34 L468.93,207.34 L465.33,213.82 Z" fill="#0a9a0a" stroke="#0a9a0a" stroke-width="0.6"/>
<rect x="470.13" y="187.15" width="8.3" height="204.85" fill="#d581cf"/>
<rect x="470.13" y="187.15" width="8.3" height="20.35" fill="#c56fbf"/>
<line x1="474.28" x2="474.28" y1="167.00" y2="207.50" stroke="#c250be" stroke-width="0.9"/><line x1="470.13" x2="478.43" y1="167.00" y2="167.00" stroke="#c250be" stroke-width="0.9"/><line x1="470.13" x2="478.43" y1="207.50" y2="207.50" stroke="#c250be" stroke-width="0.9"/>
<line x1="474.28" x2="474.28" y1="167.00" y2="181.20" stroke="#a0189c" stroke-width="0.9"/><line x1="470.55" x2="478.02" y1="167.00" y2="167.00" stroke="#a0189c" stroke-width="0.9"/><line x1="470.55" x2="478.02" y1="181.20" y2="181.20" stroke="#a0189c" stroke-width="0.9"/>
<line x1="474.28" x2="474.28" y1="192.90" y2="207.50" stroke="#a0189c" stroke-width="0.9"/><line x1="470.55" x2="478.02" y1="192.90" y2="192.90" stroke="#a0189c" stroke-width="0.9"/><line x1="470.55" x2="478.02" y1="207.50" y2="207.50" stroke="#a0189c" stroke-width="0.9"/>
<line x1="470.55" x2="478.02" y1="184.12" y2="184.12" stroke="#a0189c" stroke-width="0.9" stroke-opacity="0.35"/>
<line x1="470.55" x2="478.02" y1="187.05" y2="187.05" stroke="#a0189c" stroke-width="0.9" stroke-opacity="0.35"/>
<line x1="470.55" x2="478.02" y1="189.97" y2="189.97" stroke="#a0189c" stroke-width="0.9" stroke-opacity="0.35"/>
<path d="M470.88,176.14 L477.68,176.14 L474.28,170.02 Z" fill="none" stroke="#9c0a98" stroke-width="0.95" stroke-linejoin="miter"/>
<path d="M470.68,198.04 L477.88,198.04 L474.28,204.52 Z" fill="#9c0a98" stroke="#9c0a98" stroke-width="0.6"/>
<rect x="479.18" y="170.30" width="8.3" height="221.70" fill="#9c9c9c"/>
<rect x="479.18" y="170.30" width="8.3" height="10.20" fill="#8b8b8b"/>
<line x1="483.33" x2="483.33" y1="159.80" y2="180.50" stroke="#4d4d4d" stroke-width="1.15"/><line x1="479.63" x2="487.03" y1="159.80" y2="159.80" stroke="#4d4d4d" stroke-width="1.15"/><line x1="479.63" x2="487.03" y1="180.50" y2="180.50" stroke="#4d4d4d" stroke-width="1.15"/>
<rect x="497.12" y="202.80" width="8.3" height="189.20" fill="#8fca7c"/>
<rect x="497.12" y="202.80" width="8.3" height="16.10" fill="#7fbc6c"/>
<line x1="501.27" x2="501.27" y1="186.50" y2="218.90" stroke="#4fae42" stroke-width="0.9"/><line x1="497.12" x2="505.42" y1="186.50" y2="186.50" stroke="#4fae42" stroke-width="0.9"/><line x1="497.12" x2="505.42" y1="218.90" y2="218.90" stroke="#4fae42" stroke-width="0.9"/>
<line x1="501.27" x2="501.27" y1="186.50" y2="201.70" stroke="#1a961a" stroke-width="0.9"/><line x1="497.53" x2="505.00" y1="186.50" y2="186.50" stroke="#1a961a" stroke-width="0.9"/><line x1="497.53" x2="505.00" y1="201.70" y2="201.70" stroke="#1a961a" stroke-width="0.9"/>
<line x1="501.27" x2="501.27" y1="204.10" y2="218.90" stroke="#1a961a" stroke-width="0.9"/><line x1="497.53" x2="505.00" y1="204.10" y2="204.10" stroke="#1a961a" stroke-width="0.9"/><line x1="497.53" x2="505.00" y1="218.90" y2="218.90" stroke="#1a961a" stroke-width="0.9"/>
<path d="M497.87,196.14 L504.67,196.14 L501.27,190.02 Z" fill="none" stroke="#0a9a0a" stroke-width="0.95" stroke-linejoin="miter"/>
<path d="M497.67,209.34 L504.87,209.34 L501.27,215.82 Z" fill="#0a9a0a" stroke="#0a9a0a" stroke-width="0.6"/>
<rect x="506.07" y="192.45" width="8.3" height="199.55" fill="#d581cf"/>
<rect x="506.07" y="192.45" width="8.3" height="21.75" fill="#c56fbf"/>
<line x1="510.22" x2="510.22" y1="170.00" y2="214.20" stroke="#c250be" stroke-width="0.9"/><line x1="506.07" x2="514.37" y1="170.00" y2="170.00" stroke="#c250be" stroke-width="0.9"/><line x1="506.07" x2="514.37" y1="214.20" y2="214.20" stroke="#c250be" stroke-width="0.9"/>
<line x1="510.22" x2="510.22" y1="170.00" y2="184.80" stroke="#a0189c" stroke-width="0.9"/><line x1="506.48" x2="513.95" y1="170.00" y2="170.00" stroke="#a0189c" stroke-width="0.9"/><line x1="506.48" x2="513.95" y1="184.80" y2="184.80" stroke="#a0189c" stroke-width="0.9"/>
<line x1="510.22" x2="510.22" y1="200.80" y2="214.20" stroke="#a0189c" stroke-width="0.9"/><line x1="506.48" x2="513.95" y1="200.80" y2="200.80" stroke="#a0189c" stroke-width="0.9"/><line x1="506.48" x2="513.95" y1="214.20" y2="214.20" stroke="#a0189c" stroke-width="0.9"/>
<line x1="506.48" x2="513.95" y1="187.47" y2="187.47" stroke="#a0189c" stroke-width="0.9" stroke-opacity="0.35"/>
<line x1="506.48" x2="513.95" y1="190.13" y2="190.13" stroke="#a0189c" stroke-width="0.9" stroke-opacity="0.35"/>
<line x1="506.48" x2="513.95" y1="192.80" y2="192.80" stroke="#a0189c" stroke-width="0.9" stroke-opacity="0.35"/>
<line x1="506.48" x2="513.95" y1="195.47" y2="195.47" stroke="#a0189c" stroke-width="0.9" stroke-opacity="0.35"/>
<line x1="506.48" x2="513.95" y1="198.13" y2="198.13" stroke="#a0189c" stroke-width="0.9" stroke-opacity="0.35"/>
<path d="M506.82,179.44 L513.62,179.44 L510.22,173.32 Z" fill="none" stroke="#9c0a98" stroke-width="0.95" stroke-linejoin="miter"/>
<path d="M506.62,205.34 L513.82,205.34 L510.22,211.82 Z" fill="#9c0a98" stroke="#9c0a98" stroke-width="0.6"/>
<rect x="515.12" y="174.00" width="8.3" height="218.00" fill="#9c9c9c"/>
<rect x="515.12" y="174.00" width="8.3" height="9.40" fill="#8b8b8b"/>
<line x1="519.27" x2="519.27" y1="165.10" y2="183.40" stroke="#4d4d4d" stroke-width="1.15"/><line x1="515.57" x2="522.97" y1="165.10" y2="165.10" stroke="#4d4d4d" stroke-width="1.15"/><line x1="515.57" x2="522.97" y1="183.40" y2="183.40" stroke="#4d4d4d" stroke-width="1.15"/>
<rect x="533.06" y="137.65" width="8.3" height="254.35" fill="#8fca7c"/>
<rect x="533.06" y="137.65" width="8.3" height="29.15" fill="#7fbc6c"/>
<line x1="537.21" x2="537.21" y1="106.30" y2="166.80" stroke="#4fae42" stroke-width="0.9"/><line x1="533.06" x2="541.36" y1="106.30" y2="106.30" stroke="#4fae42" stroke-width="0.9"/><line x1="533.06" x2="541.36" y1="166.80" y2="166.80" stroke="#4fae42" stroke-width="0.9"/>
<line x1="537.21" x2="537.21" y1="106.30" y2="135.30" stroke="#1a961a" stroke-width="0.9"/><line x1="533.47" x2="540.94" y1="106.30" y2="106.30" stroke="#1a961a" stroke-width="0.9"/><line x1="533.47" x2="540.94" y1="135.30" y2="135.30" stroke="#1a961a" stroke-width="0.9"/>
<line x1="537.21" x2="537.21" y1="142.20" y2="166.80" stroke="#1a961a" stroke-width="0.9"/><line x1="533.47" x2="540.94" y1="142.20" y2="142.20" stroke="#1a961a" stroke-width="0.9"/><line x1="533.47" x2="540.94" y1="166.80" y2="166.80" stroke="#1a961a" stroke-width="0.9"/>
<line x1="533.47" x2="540.94" y1="137.60" y2="137.60" stroke="#1a961a" stroke-width="0.9" stroke-opacity="0.35"/>
<line x1="533.47" x2="540.94" y1="139.90" y2="139.90" stroke="#1a961a" stroke-width="0.9" stroke-opacity="0.35"/>
<path d="M533.81,122.84 L540.61,122.84 L537.21,116.72 Z" fill="none" stroke="#0a9a0a" stroke-width="0.95" stroke-linejoin="miter"/>
<path d="M533.61,152.34 L540.81,152.34 L537.21,158.82 Z" fill="#0a9a0a" stroke="#0a9a0a" stroke-width="0.6"/>
<rect x="542.01" y="137.65" width="8.3" height="254.35" fill="#d581cf"/>
<rect x="542.01" y="137.65" width="8.3" height="20.85" fill="#c56fbf"/>
<line x1="546.16" x2="546.16" y1="115.40" y2="158.50" stroke="#c250be" stroke-width="0.9"/><line x1="542.01" x2="550.31" y1="115.40" y2="115.40" stroke="#c250be" stroke-width="0.9"/><line x1="542.01" x2="550.31" y1="158.50" y2="158.50" stroke="#c250be" stroke-width="0.9"/>
<line x1="546.16" x2="546.16" y1="115.40" y2="136.80" stroke="#a0189c" stroke-width="0.9"/><line x1="542.42" x2="549.89" y1="115.40" y2="115.40" stroke="#a0189c" stroke-width="0.9"/><line x1="542.42" x2="549.89" y1="136.80" y2="136.80" stroke="#a0189c" stroke-width="0.9"/>
<line x1="546.16" x2="546.16" y1="139.90" y2="158.50" stroke="#a0189c" stroke-width="0.9"/><line x1="542.42" x2="549.89" y1="139.90" y2="139.90" stroke="#a0189c" stroke-width="0.9"/><line x1="542.42" x2="549.89" y1="158.50" y2="158.50" stroke="#a0189c" stroke-width="0.9"/>
<path d="M542.76,128.14 L549.56,128.14 L546.16,122.02 Z" fill="none" stroke="#9c0a98" stroke-width="0.95" stroke-linejoin="miter"/>
<path d="M542.56,147.04 L549.76,147.04 L546.16,153.52 Z" fill="#9c0a98" stroke="#9c0a98" stroke-width="0.6"/>
<rect x="551.06" y="120.10" width="8.3" height="271.90" fill="#9c9c9c"/>
<rect x="551.06" y="120.10" width="8.3" height="13.80" fill="#8b8b8b"/>
<line x1="555.21" x2="555.21" y1="105.80" y2="133.90" stroke="#4d4d4d" stroke-width="1.15"/><line x1="551.51" x2="558.91" y1="105.80" y2="105.80" stroke="#4d4d4d" stroke-width="1.15"/><line x1="551.51" x2="558.91" y1="133.90" y2="133.90" stroke="#4d4d4d" stroke-width="1.15"/>
<rect x="568.99" y="147.30" width="8.3" height="244.70" fill="#8fca7c"/>
<rect x="568.99" y="147.30" width="8.3" height="31.50" fill="#7fbc6c"/>
<line x1="573.14" x2="573.14" y1="112.30" y2="178.80" stroke="#4fae42" stroke-width="0.9"/><line x1="568.99" x2="577.29" y1="112.30" y2="112.30" stroke="#4fae42" stroke-width="0.9"/><line x1="568.99" x2="577.29" y1="178.80" y2="178.80" stroke="#4fae42" stroke-width="0.9"/>
<line x1="573.14" x2="573.14" y1="112.30" y2="142.50" stroke="#1a961a" stroke-width="0.9"/><line x1="569.41" x2="576.88" y1="112.30" y2="112.30" stroke="#1a961a" stroke-width="0.9"/><line x1="569.41" x2="576.88" y1="142.50" y2="142.50" stroke="#1a961a" stroke-width="0.9"/>
<line x1="573.14" x2="573.14" y1="155.60" y2="178.80" stroke="#1a961a" stroke-width="0.9"/><line x1="569.41" x2="576.88" y1="155.60" y2="155.60" stroke="#1a961a" stroke-width="0.9"/><line x1="569.41" x2="576.88" y1="178.80" y2="178.80" stroke="#1a961a" stroke-width="0.9"/>
<line x1="569.41" x2="576.88" y1="145.12" y2="145.12" stroke="#1a961a" stroke-width="0.9" stroke-opacity="0.35"/>
<line x1="569.41" x2="576.88" y1="147.74" y2="147.74" stroke="#1a961a" stroke-width="0.9" stroke-opacity="0.35"/>
<line x1="569.41" x2="576.88" y1="150.36" y2="150.36" stroke="#1a961a" stroke-width="0.9" stroke-opacity="0.35"/>
<line x1="569.41" x2="576.88" y1="152.98" y2="152.98" stroke="#1a961a" stroke-width="0.9" stroke-opacity="0.35"/>
<path d="M569.74,129.44 L576.54,129.44 L573.14,123.32 Z" fill="none" stroke="#0a9a0a" stroke-width="0.95" stroke-linejoin="miter"/>
<path d="M569.54,165.04 L576.74,165.04 L573.14,171.52 Z" fill="#0a9a0a" stroke="#0a9a0a" stroke-width="0.6"/>
<rect x="577.94" y="138.45" width="8.3" height="253.55" fill="#d581cf"/>
<rect x="577.94" y="138.45" width="8.3" height="25.65" fill="#c56fbf"/>
<line x1="582.09" x2="582.09" y1="114.40" y2="164.10" stroke="#c250be" stroke-width="0.9"/><line x1="577.94" x2="586.24" y1="114.40" y2="114.40" stroke="#c250be" stroke-width="0.9"/><line x1="577.94" x2="586.24" y1="164.10" y2="164.10" stroke="#c250be" stroke-width="0.9"/>
<line x1="582.09" x2="582.09" y1="114.40" y2="132.40" stroke="#a0189c" stroke-width="0.9"/><line x1="578.36" x2="585.83" y1="114.40" y2="114.40" stroke="#a0189c" stroke-width="0.9"/><line x1="578.36" x2="585.83" y1="132.40" y2="132.40" stroke="#a0189c" stroke-width="0.9"/>
<line x1="582.09" x2="582.09" y1="142.90" y2="164.10" stroke="#a0189c" stroke-width="0.9"/><line x1="578.36" x2="585.83" y1="142.90" y2="142.90" stroke="#a0189c" stroke-width="0.9"/><line x1="578.36" x2="585.83" y1="164.10" y2="164.10" stroke="#a0189c" stroke-width="0.9"/>
<line x1="578.36" x2="585.83" y1="135.03" y2="135.03" stroke="#a0189c" stroke-width="0.9" stroke-opacity="0.35"/>
<line x1="578.36" x2="585.83" y1="137.65" y2="137.65" stroke="#a0189c" stroke-width="0.9" stroke-opacity="0.35"/>
<line x1="578.36" x2="585.83" y1="140.28" y2="140.28" stroke="#a0189c" stroke-width="0.9" stroke-opacity="0.35"/>
<path d="M578.69,125.44 L585.49,125.44 L582.09,119.32 Z" fill="none" stroke="#9c0a98" stroke-width="0.95" stroke-linejoin="miter"/>
<path d="M578.49,151.34 L585.69,151.34 L582.09,157.82 Z" fill="#9c0a98" stroke="#9c0a98" stroke-width="0.6"/>
<rect x="586.99" y="120.10" width="8.3" height="271.90" fill="#9c9c9c"/>
<rect x="586.99" y="120.10" width="8.3" height="14.00" fill="#8b8b8b"/>
<line x1="591.14" x2="591.14" y1="105.60" y2="134.10" stroke="#4d4d4d" stroke-width="1.15"/><line x1="587.44" x2="594.84" y1="105.60" y2="105.60" stroke="#4d4d4d" stroke-width="1.15"/><line x1="587.44" x2="594.84" y1="134.10" y2="134.10" stroke="#4d4d4d" stroke-width="1.15"/>
<rect x="604.93" y="162.25" width="8.3" height="229.75" fill="#8fca7c"/>
<rect x="604.93" y="162.25" width="8.3" height="19.25" fill="#7fbc6c"/>
<line x1="609.08" x2="609.08" y1="143.50" y2="181.50" stroke="#4fae42" stroke-width="0.9"/><line x1="604.93" x2="613.23" y1="143.50" y2="143.50" stroke="#4fae42" stroke-width="0.9"/><line x1="604.93" x2="613.23" y1="181.50" y2="181.50" stroke="#4fae42" stroke-width="0.9"/>
<line x1="609.08" x2="609.08" y1="158.50" y2="181.50" stroke="#1a961a" stroke-width="0.9"/><line x1="605.35" x2="612.82" y1="158.50" y2="158.50" stroke="#1a961a" stroke-width="0.9"/><line x1="605.35" x2="612.82" y1="181.50" y2="181.50" stroke="#1a961a" stroke-width="0.9"/>
<line x1="609.08" x2="609.08" y1="143.50" y2="165.50" stroke="#1a961a" stroke-width="0.9"/><line x1="605.35" x2="612.82" y1="143.50" y2="143.50" stroke="#1a961a" stroke-width="0.9"/><line x1="605.35" x2="612.82" y1="165.50" y2="165.50" stroke="#1a961a" stroke-width="0.9"/>
<path d="M605.68,172.04 L612.48,172.04 L609.08,165.92 Z" fill="none" stroke="#0a9a0a" stroke-width="0.95" stroke-linejoin="miter"/>
<path d="M605.48,152.34 L612.68,152.34 L609.08,158.82 Z" fill="#0a9a0a" stroke="#0a9a0a" stroke-width="0.6"/>
<rect x="613.88" y="155.80" width="8.3" height="236.20" fill="#d581cf"/>
<rect x="613.88" y="155.80" width="8.3" height="12.20" fill="#c56fbf"/>
<line x1="618.03" x2="618.03" y1="142.40" y2="168.00" stroke="#c250be" stroke-width="0.9"/><line x1="613.88" x2="622.18" y1="142.40" y2="142.40" stroke="#c250be" stroke-width="0.9"/><line x1="613.88" x2="622.18" y1="168.00" y2="168.00" stroke="#c250be" stroke-width="0.9"/>
<line x1="618.03" x2="618.03" y1="142.40" y2="163.20" stroke="#a0189c" stroke-width="0.9"/><line x1="614.30" x2="621.77" y1="142.40" y2="142.40" stroke="#a0189c" stroke-width="0.9"/><line x1="614.30" x2="621.77" y1="163.20" y2="163.20" stroke="#a0189c" stroke-width="0.9"/>
<line x1="618.03" x2="618.03" y1="149.60" y2="168.00" stroke="#a0189c" stroke-width="0.9"/><line x1="614.30" x2="621.77" y1="149.60" y2="149.60" stroke="#a0189c" stroke-width="0.9"/><line x1="614.30" x2="621.77" y1="168.00" y2="168.00" stroke="#a0189c" stroke-width="0.9"/>
<path d="M614.63,154.84 L621.43,154.84 L618.03,148.72 Z" fill="none" stroke="#9c0a98" stroke-width="0.95" stroke-linejoin="miter"/>
<path d="M614.43,156.64 L621.63,156.64 L618.03,163.12 Z" fill="#9c0a98" stroke="#9c0a98" stroke-width="0.6"/>
<rect x="622.93" y="136.50" width="8.3" height="255.50" fill="#9c9c9c"/>
<rect x="622.93" y="136.50" width="8.3" height="13.00" fill="#8b8b8b"/>
<line x1="627.08" x2="627.08" y1="123.60" y2="149.50" stroke="#4d4d4d" stroke-width="1.15"/><line x1="623.38" x2="630.78" y1="123.60" y2="123.60" stroke="#4d4d4d" stroke-width="1.15"/><line x1="623.38" x2="630.78" y1="149.50" y2="149.50" stroke="#4d4d4d" stroke-width="1.15"/>
<rect x="61.0" y="5.15" width="575.0" height="386.85" fill="none" stroke="#7a7a7a" stroke-width="1.55"/>
<text x="53.2" y="396.70" text-anchor="end" class="t">0</text>
<text x="53.2" y="332.22" text-anchor="end" class="t">5</text>
<text x="53.2" y="267.75" text-anchor="end" class="t">10</text>
<text x="53.2" y="203.27" text-anchor="end" class="t">15</text>
<text x="53.2" y="138.80" text-anchor="end" class="t">20</text>
<text x="53.2" y="74.33" text-anchor="end" class="t">25</text>
<text x="53.2" y="9.85" text-anchor="end" class="t">30</text>
<text x="78.97" y="409.2" text-anchor="middle" class="t">1</text>
<text x="114.91" y="409.2" text-anchor="middle" class="t">2</text>
<text x="150.84" y="409.2" text-anchor="middle" class="t">3</text>
<text x="186.78" y="409.2" text-anchor="middle" class="t">4</text>
<text x="222.72" y="409.2" text-anchor="middle" class="t">5</text>
<text x="258.66" y="409.2" text-anchor="middle" class="t">6</text>
<text x="294.59" y="409.2" text-anchor="middle" class="t">7</text>
<text x="330.53" y="409.2" text-anchor="middle" class="t">8</text>
<text x="366.47" y="409.2" text-anchor="middle" class="t">9</text>
<text x="402.41" y="409.2" text-anchor="middle" class="t">10</text>
<text x="438.34" y="409.2" text-anchor="middle" class="t">11</text>
<text x="474.28" y="409.2" text-anchor="middle" class="t">12</text>
<text x="510.22" y="409.2" text-anchor="middle" class="t">13</text>
<text x="546.16" y="409.2" text-anchor="middle" class="t">14</text>
<text x="582.09" y="409.2" text-anchor="middle" class="t">15</text>
<text x="618.03" y="409.2" text-anchor="middle" class="t">16</text>
<text x="173.6" y="35.7" class="m" textLength="62" lengthAdjust="spacingAndGlyphs">EBT-XD</text>
<text x="467" y="35.7" class="m" textLength="50.5" lengthAdjust="spacingAndGlyphs">MD-V3</text>
<text x="277.7" y="439.3" class="L" textLength="142" lengthAdjust="spacingAndGlyphs">Holder number</text>
<g transform="translate(17.2,248.8) rotate(-90)"><text x="0" y="0" font-size="23.6" textLength="46.2" lengthAdjust="spacingAndGlyphs">Dose</text><text x="73" y="0" font-size="23.6" textLength="28" lengthAdjust="spacingAndGlyphs">Gy</text></g>
<path d="M0.2,185.2 L22.3,193.3" stroke="#111" stroke-width="1.3"/>
<rect x="742.0" y="5.15" width="99.50" height="386.85" fill="#efefef"/>
<line x1="742.0" x2="940.0" y1="341.50" y2="341.50" stroke="#dadada" stroke-width="1"/>
<line x1="742.0" x2="940.0" y1="269.90" y2="269.90" stroke="#dadada" stroke-width="1"/>
<line x1="742.0" x2="940.0" y1="198.30" y2="198.30" stroke="#dadada" stroke-width="1"/>
<line x1="742.0" x2="940.0" y1="126.70" y2="126.70" stroke="#dadada" stroke-width="1"/>
<line x1="742.0" x2="940.0" y1="55.10" y2="55.10" stroke="#dadada" stroke-width="1"/>
<line x1="841.50" x2="841.50" y1="5.15" y2="392.0" stroke="#bdbdbd" stroke-width="1" stroke-dasharray="6 5.5" stroke-dashoffset="-4"/>
<circle cx="767.0" cy="93.4" r="3.75" fill="#8fca7c" stroke="#7db96b" stroke-width="0.6"/>
<circle cx="767.0" cy="207.7" r="3.75" fill="#8fca7c" stroke="#7db96b" stroke-width="0.6"/>
<circle cx="767.0" cy="245.8" r="3.75" fill="#8fca7c" stroke="#7db96b" stroke-width="0.6"/>
<circle cx="767.0" cy="270.5" r="3.75" fill="#8fca7c" stroke="#7db96b" stroke-width="0.6"/>
<circle cx="767.0" cy="274.5" r="3.75" fill="#8fca7c" stroke="#7db96b" stroke-width="0.6"/>
<circle cx="767.0" cy="278.5" r="3.75" fill="#8fca7c" stroke="#7db96b" stroke-width="0.6"/>
<circle cx="767.0" cy="296.2" r="3.75" fill="#8fca7c" stroke="#7db96b" stroke-width="0.6"/>
<circle cx="767.0" cy="327.3" r="3.75" fill="#8fca7c" stroke="#7db96b" stroke-width="0.6"/>
<circle cx="816.5" cy="55.9" r="3.75" fill="#d882d3" stroke="#c96ec5" stroke-width="0.6"/>
<circle cx="816.5" cy="204.3" r="3.75" fill="#d882d3" stroke="#c96ec5" stroke-width="0.6"/>
<circle cx="816.5" cy="246" r="3.75" fill="#d882d3" stroke="#c96ec5" stroke-width="0.6"/>
<circle cx="816.5" cy="250.5" r="3.75" fill="#d882d3" stroke="#c96ec5" stroke-width="0.6"/>
<circle cx="816.5" cy="255.5" r="3.75" fill="#d882d3" stroke="#c96ec5" stroke-width="0.6"/>
<circle cx="816.5" cy="260.7" r="3.75" fill="#d882d3" stroke="#c96ec5" stroke-width="0.6"/>
<circle cx="816.5" cy="274" r="3.75" fill="#d882d3" stroke="#c96ec5" stroke-width="0.6"/>
<circle cx="816.5" cy="315.9" r="3.75" fill="#d882d3" stroke="#c96ec5" stroke-width="0.6"/>
<circle cx="866.2" cy="136.9" r="3.75" fill="#8fca7c" stroke="#7db96b" stroke-width="0.6"/>
<circle cx="866.2" cy="294" r="3.75" fill="#8fca7c" stroke="#7db96b" stroke-width="0.6"/>
<circle cx="866.2" cy="299" r="3.75" fill="#8fca7c" stroke="#7db96b" stroke-width="0.6"/>
<circle cx="866.2" cy="311.9" r="3.75" fill="#8fca7c" stroke="#7db96b" stroke-width="0.6"/>
<circle cx="866.2" cy="346" r="3.75" fill="#8fca7c" stroke="#7db96b" stroke-width="0.6"/>
<circle cx="866.2" cy="358.8" r="3.75" fill="#8fca7c" stroke="#7db96b" stroke-width="0.6"/>
<circle cx="866.2" cy="360.8" r="3.75" fill="#8fca7c" stroke="#7db96b" stroke-width="0.6"/>
<circle cx="915.8" cy="147.3" r="3.75" fill="#d882d3" stroke="#c96ec5" stroke-width="0.6"/>
<circle cx="915.8" cy="286.1" r="3.75" fill="#d882d3" stroke="#c96ec5" stroke-width="0.6"/>
<circle cx="915.8" cy="300.8" r="3.75" fill="#d882d3" stroke="#c96ec5" stroke-width="0.6"/>
<circle cx="915.8" cy="302.6" r="3.75" fill="#d882d3" stroke="#c96ec5" stroke-width="0.6"/>
<circle cx="915.8" cy="341.1" r="3.75" fill="#d882d3" stroke="#c96ec5" stroke-width="0.6"/>
<circle cx="915.8" cy="359.1" r="3.75" fill="#d882d3" stroke="#c96ec5" stroke-width="0.6"/>
<circle cx="915.8" cy="367.7" r="3.75" fill="#d882d3" stroke="#c96ec5" stroke-width="0.6"/>
<rect x="755.8" y="250.20" width="22.50" height="3.6" fill="#008a00"/>
<rect x="805.2" y="233.50" width="22.70" height="3.6" fill="#8a008a"/>
<rect x="854.9" y="299.20" width="22.30" height="3.6" fill="#008a00"/>
<rect x="904.4" y="298.80" width="22.60" height="3.6" fill="#8a008a"/>
<rect x="742.0" y="5.15" width="198.0" height="386.85" fill="none" stroke="#7a7a7a" stroke-width="1.55"/>
<text x="734.7" y="346.20" text-anchor="end" class="t" textLength="26.8" lengthAdjust="spacingAndGlyphs">−20</text>
<text x="734.7" y="274.60" text-anchor="end" class="t" textLength="26.8" lengthAdjust="spacingAndGlyphs">−10</text>
<text x="734.7" y="203.00" text-anchor="end" class="t">0</text>
<text x="734.7" y="131.40" text-anchor="end" class="t">10</text>
<text x="734.7" y="59.80" text-anchor="end" class="t">20</text>
<text x="768.6" y="410.4" class="m" textLength="47.1" lengthAdjust="spacingAndGlyphs">UHDR</text>
<text x="874.1" y="410.4" class="m" textLength="33.8" lengthAdjust="spacingAndGlyphs">CDR</text>
<text x="761" y="440.8" class="L" textLength="160.5" lengthAdjust="spacingAndGlyphs">Dose-rate regime</text>
<g transform="translate(686.2,318.2) rotate(-90)"><text x="0" y="0" font-size="24.5" textLength="15.9" lengthAdjust="spacingAndGlyphs">Δ</text><text x="20.6" y="0" font-size="24.5" font-style="italic" textLength="17.5" lengthAdjust="spacingAndGlyphs">D</text><text x="39.5" y="4.1" font-size="16" font-style="italic" textLength="86.5" lengthAdjust="spacingAndGlyphs">RCF−RPL</text><text x="139.6" y="0" font-size="24.5" font-style="italic" textLength="18.6" lengthAdjust="spacingAndGlyphs">D</text><text x="160.2" y="4.1" font-size="16" font-style="italic" textLength="35.2" lengthAdjust="spacingAndGlyphs">RPL</text><text x="223.2" y="0.3" font-size="26" textLength="17" lengthAdjust="spacingAndGlyphs">%</text></g>
<path d="M669.3,180.4 L691.1,188.4 M669.7,104.2 L691,112.8" stroke="#111" stroke-width="1.3" fill="none"/>
<rect x="61.5" y="472" width="816.5" height="50.8" fill="#fff" stroke="#4a4a4a" stroke-width="1.15"/>
<rect x="76.2" y="490" width="32.5" height="11" fill="#8fca7c"/>
<rect x="217.5" y="490" width="32.5" height="11" fill="#d581cf"/>
<rect x="358.7" y="490" width="32.6" height="11" fill="#9c9c9c"/>
<text x="116.6" y="502.6" class="L" textLength="44.2" lengthAdjust="spacingAndGlyphs">RCF</text>
<text x="162.1" y="505.8" font-size="16.5" textLength="39.3" lengthAdjust="spacingAndGlyphs">green</text>
<text x="258.3" y="502.6" class="L" textLength="44.2" lengthAdjust="spacingAndGlyphs">RCF</text>
<text x="304.4" y="505.8" font-size="16.5" textLength="38.1" lengthAdjust="spacingAndGlyphs">multi</text>
<text x="399.5" y="502.6" class="L" textLength="59.5" lengthAdjust="spacingAndGlyphs">RPLD</text>
<path d="M475.1,497.1 L481.5,497.1 L478.3,492.1 Z" fill="none" stroke="#2f922a" stroke-width="1.1"/>
<path d="M488.7,497.1 L495.1,497.1 L491.9,492.1 Z" fill="none" stroke="#b02cab" stroke-width="1.1"/>
<text x="503.4" y="502.6" class="L" textLength="144.1" lengthAdjust="spacingAndGlyphs">Upstream RCF</text>
<path d="M663.1,493.4 L670.3,493.4 L666.7,499.8 Z" fill="#008c00"/>
<path d="M677,493.4 L684.2,493.4 L680.6,499.8 Z" fill="#8a008c"/>
<text x="692" y="502.6" class="L" textLength="171" lengthAdjust="spacingAndGlyphs">Downstream RCF</text>
</svg>
</body></html>
